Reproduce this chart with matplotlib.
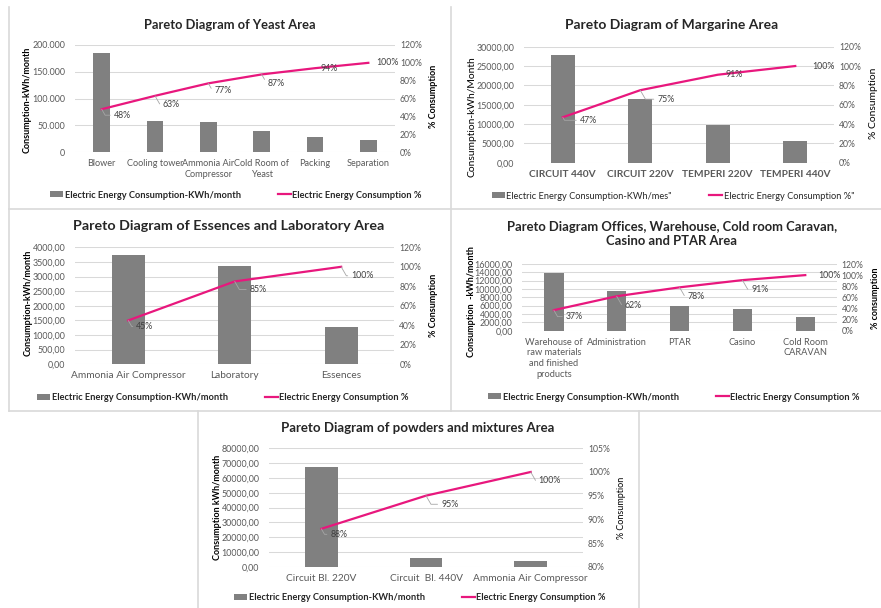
import matplotlib.pyplot as plt
from matplotlib.ticker import FuncFormatter, MultipleLocator
from matplotlib.lines import Line2D

plt.rcParams['font.family'] = ['Lato', 'DejaVu Sans']

W, H = 881, 608
BAR = '#808080'
PINK = '#e8177d'
GRID = '#d9d9d9'
TEXT = '#595959'
LEADER = '#a6a6a6'

# Yeast area
yeast_cats = ['Blower', 'Cooling tower', 'Ammonia Air\nCompressor', 'Cold Room of\nYeast', 'Packing', 'Separation']
yeast_kwh = [184500, 58000, 55500, 39000, 28600, 22400]
yeast_pct = [48, 63, 77, 87, 94, 100]

# Margarine area
marg_cats = ['CIRCUIT 440V', 'CIRCUIT 220V', 'TEMPERI 220V', 'TEMPERI 440V']
marg_kwh = [27900, 16500, 9700, 5500]
marg_pct = [47, 75, 91, 100]

# Essences and laboratory
ess_cats = ['Ammonia Air Compressor', 'Laboratory', 'Essences']
ess_kwh = [3740, 3350, 1285]
ess_pct = [45, 85, 100]

# Offices, warehouse, cold room, casino, PTAR
off_cats = ['Warehouse of\nraw materials\nand finished\nproducts', 'Administration', 'PTAR', 'Casino', 'Cold Room\nCARAVAN']
off_kwh = [13900, 9520, 6000, 5200, 3290]
off_pct = [37, 62, 78, 91, 100]

# Powders and mixtures
pow_cats = ['Circuit Bl. 220V', 'Circuit  Bl. 440V', 'Ammonia Air Compressor']
pow_kwh = [67600, 5630, 3850]
pow_pct = [88, 95, 100]


def fx(x):
    return x / W


def fy(y):
    return 1 - y / H


def dot_thousands(v, pos):
    return f"{v:,.0f}".replace(",", ".")


def comma_dec(v, pos):
    return f"{v:.2f}".replace(".", ",")


def pareto(box, cats, kwh, pct, kwh_max, kwh_step, kwh_fmt, pct_lim, pct_step,
           offsets, title, title_xy, ylabel, ylabel_xy, rlabel, rlabel_xy,
           legend_xy, bar_name, line_name, title_size=9.5, label_bold=True,
           rlabel_bold=True, tick_bold=False, tick_size=7.3, legend_bold=True,
           label_size=6.5):
    x0, y0, x1, y1 = box
    ax = fig.add_axes([fx(x0), fy(y1), (x1 - x0) / W, (y1 - y0) / H])
    xs = range(len(cats))
    bars = ax.bar(xs, kwh, width=0.31, color=BAR, label=bar_name, zorder=2)
    ax.set_xlim(-0.5, len(cats) - 0.5)
    ax.set_ylim(0, kwh_max)
    ax.yaxis.set_major_locator(MultipleLocator(kwh_step))
    ax.yaxis.set_major_formatter(FuncFormatter(kwh_fmt))
    ax.grid(axis='y', color=GRID, lw=0.75, zorder=0)
    ax.set_axisbelow(True)
    ax.set_xticks(list(xs))
    ax.set_xticklabels(cats, fontweight='bold' if tick_bold else 'normal',
                       linespacing=1.25, fontsize=tick_size)
    ax.tick_params(axis='y', length=0, labelsize=6.4, colors=TEXT, pad=7)
    ax.tick_params(axis='x', length=0, colors=TEXT, pad=5)

    ax2 = ax.twinx()
    line, = ax2.plot(xs, pct, color=PINK, lw=1.6, label=line_name, zorder=3)
    ax2.set_ylim(*pct_lim)
    ax2.yaxis.set_major_locator(MultipleLocator(pct_step))
    ax2.yaxis.set_major_formatter(FuncFormatter(lambda v, p: f"{v:.0f}%"))
    ax2.tick_params(length=0, labelsize=6.2, colors=TEXT, pad=3.5)
    for a in (ax, ax2):
        for s in a.spines.values():
            s.set_visible(False)

    # cumulative percentage labels with leader lines
    for i, (p, (dx, dy)) in enumerate(zip(pct, offsets)):
        arrow = None
        if dy:
            arrow = dict(arrowstyle='-', color=LEADER, lw=0.6, shrinkA=0.5,
                         shrinkB=0, relpos=(0, 0.5),
                         connectionstyle='angle,angleA=0,angleB=-60,rad=0')
        ax2.annotate(f"{p}%", (i, p), xytext=(dx, -dy), textcoords='offset pixels',
                     ha='left', va='center', fontsize=6.3, color='#404040',
                     arrowprops=arrow)

    fig.text(fx(title_xy[0]), fy(title_xy[1]), title, ha='center', va='center',
             fontsize=title_size, fontweight='bold', color='#262626',
             linespacing=1.25)
    fig.text(fx(ylabel_xy[0]), fy(ylabel_xy[1]), ylabel, rotation=90, ha='center',
             va='center', fontsize=label_size, color='black',
             fontweight='bold' if label_bold else 'normal')
    fig.text(fx(rlabel_xy[0]), fy(rlabel_xy[1]), rlabel, rotation=90, ha='center',
             va='center', fontsize=label_size, color='black',
             fontweight='bold' if rlabel_bold else 'normal')
    ax.legend([bars, line], [bar_name, line_name], loc='center',
              bbox_to_anchor=(fx(legend_xy[0]), fy(legend_xy[1])),
              bbox_transform=fig.transFigure, ncol=2, frameon=False,
              prop={'size': 6.7, 'weight': 'bold' if legend_bold else 'normal'},
              columnspacing=4.0, handlelength=1.4, handleheight=0.55,
              handletextpad=0.15, labelcolor='#262626')
    return ax, ax2


fig = plt.figure(figsize=(W / 100, H / 100), dpi=100)

pareto((75, 45, 395, 152), yeast_cats, yeast_kwh, yeast_pct, 200000, 50000,
       dot_thousands, (0, 120), 20,
       [(12, 6), (8, 8.5), (6, 7.5), (6, 9), (6, 0), (8, 0)],
       'Pareto Diagram of Yeast Area', (230, 25),
       'Consumption-kWh/month', (27, 100), '% Consumption', (433, 96), (236, 195),
       'Electric Energy Consumption-KWh/month', 'Electric Energy Consumption %',
       title_size=9.3, tick_size=6.6)

pareto((524, 46.7, 834, 162.7), marg_cats, marg_kwh, marg_pct, 30000, 5000,
       comma_dec, (0, 120), 20,
       [(17, 3), (17, 9), (8, 0), (17, 0)],
       'Pareto Diagram of Margarine Area', (672, 25),
       'Consumption-kWh/Month', (472, 117), '% Consumption', (873, 103), (673, 196),
       'Electric Energy Consumption-KWh/mes"', 'Electric Energy Consumption %"',
       title_size=10, label_bold=False, rlabel_bold=False, tick_bold=True,
       legend_bold=False, label_size=7.4)

pareto((75, 247.3, 394.4, 364.3), ess_cats, ess_kwh, ess_pct, 4000, 500,
       comma_dec, (0, 120), 20,
       [(8, 6), (15, 8), (10, 9)],
       'Pareto Diagram of Essences and Laboratory Area', (229, 226),
       'Consumption-kWh/month', (28, 303), '% Consumption', (433, 305), (223, 398),
       'Electric Energy Consumption-KWh/month', 'Electric Energy Consumption %',
       title_size=10.3)

pareto((522.4, 264, 836.7, 330.7), off_cats, off_kwh, off_pct, 16000, 2000,
       comma_dec, (0, 120), 20,
       [(12, 6.5), (8, 9), (8, 8.7), (9, 9), (13, 0)],
       'Pareto Diagram Offices, Warehouse, Cold room Caravan,\nCasino and PTAR Area',
       (672, 234),
       'Consumption  -kWh/month', (472, 302), '% consumption', (875, 298), (674, 397),
       'Electric Energy Consumption-KWh/month', 'Electric Energy Consumption %',
       title_size=9.4, tick_size=6.7)

pareto((269, 448.3, 583, 566.7), pow_cats, pow_kwh, pow_pct, 80000, 10000,
       comma_dec, (80, 105), 5,
       [(9, 5.5), (15, 8.6), (8, 9)],
       'Pareto Diagram of powders and mixtures Area', (418, 428),
       'Consumption kWh/month', (218, 507), '% Consumption', (622, 508), (420, 598),
       'Electric Energy Consumption-KWh/month', 'Electric Energy Consumption %',
       title_size=9.5, rlabel_bold=False)

# panel frames
frames = [((9, 7), (9, 411)), ((451, 7), (451, 411)), ((9, 209), (881, 209)),
          ((9, 411), (881, 411)), ((198, 411), (198, 608)), ((639, 411), (639, 608))]
for (a, b), (c, d) in frames:
    fig.add_artist(Line2D([fx(a), fx(c)], [fy(b), fy(d)], color='#d9d9d9', lw=1.2))

fig.savefig('out.png', dpi=100)
